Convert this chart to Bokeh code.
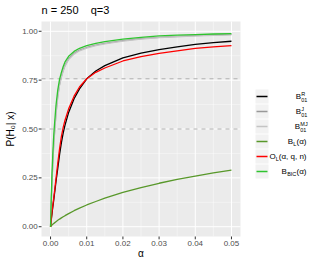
import math
from bokeh.plotting import figure
from bokeh.models import Range1d
from bokeh.core.properties import value
from bokeh.embed import file_html
from bokeh.resources import INLINE

# ---- data ----
alpha = [0, 0.0002, 0.0004, 0.0006, 0.0008, 0.001, 0.0015, 0.002, 0.0025, 0.003, 0.0035,
         0.004, 0.005, 0.0065, 0.008, 0.01, 0.0125, 0.015, 0.02, 0.025, 0.03, 0.035,
         0.04, 0.045, 0.05]
b01_R = [0, 0.035, 0.068, 0.098, 0.125, 0.155, 0.23, 0.30, 0.37, 0.43, 0.48,
         0.52, 0.585, 0.655, 0.705, 0.757, 0.797, 0.824, 0.864, 0.888, 0.906, 0.92,
         0.933, 0.942, 0.949]
b01_J = [0, 0.123, 0.234, 0.314, 0.394, 0.454, 0.579, 0.669, 0.729, 0.769, 0.801,
         0.826, 0.859, 0.887, 0.904, 0.917, 0.929, 0.938, 0.952, 0.962, 0.969, 0.974,
         0.978, 0.981, 0.984]
b01_MJ = [0, 0.12, 0.23, 0.31, 0.39, 0.45, 0.575, 0.665, 0.725, 0.765, 0.797,
          0.822, 0.855, 0.883, 0.9, 0.914, 0.926, 0.935, 0.95, 0.96, 0.967, 0.972,
          0.976, 0.979, 0.982]
b_L = [0, 0.0046, 0.0085, 0.0122, 0.0155, 0.0184, 0.0258, 0.0327, 0.0391, 0.0452, 0.051,
       0.0565, 0.0672, 0.082, 0.0955, 0.1113, 0.129, 0.1462, 0.1754, 0.2004, 0.2224, 0.2418,
       0.2593, 0.275, 0.2893]
o_L = [0, 0.04, 0.075, 0.105, 0.135, 0.165, 0.245, 0.325, 0.40, 0.462, 0.508,
       0.545, 0.603, 0.668, 0.715, 0.757, 0.79, 0.812, 0.848, 0.87, 0.887, 0.9,
       0.912, 0.92, 0.927]
b_BIC = [0, 0.15, 0.27, 0.36, 0.44, 0.50, 0.62, 0.70, 0.755, 0.79, 0.82,
         0.843, 0.872, 0.897, 0.913, 0.926, 0.938, 0.947, 0.96, 0.969, 0.976, 0.98,
         0.983, 0.986, 0.988]
ref_levels = [0.757, 0.5]
x_ticks = [0, 0.01, 0.02, 0.03, 0.04, 0.05]
x_tick_labels = ["0.00", "0.01", "0.02", "0.03", "0.04", "0.05"]
x_minor = [0.005, 0.015, 0.025, 0.035, 0.045]
y_ticks = [0, 0.25, 0.5, 0.75, 1.0]
y_tick_labels = ["0.00", "0.25", "0.50", "0.75", "1.00"]
y_minor = [0.125, 0.375, 0.625, 0.875]
title_text = "n\u00a0=\u00a0250\u00a0\u00a0\u00a0\u00a0q=3"
x_title = "α"
y_title = "P(H₀| x)"

series = [
    ("R", b01_R, "#000000"),
    ("J", b01_J, "#999999"),
    ("MJ", b01_MJ, "#c4c4c4"),
    ("L", b_L, "#58982a"),
    ("O", o_L, "#ff0000"),
    ("BIC", b_BIC, "#2fc42f"),
]

FONT = "Liberation Sans"

# ---- layout in picture pixels; the whole canvas is the plotting frame ----
W, H = 308, 259
PL, PR, PT, PB = 41, 240, 21, 236   # grey panel edges (picture px)
XMIN, XMAX = -0.0025, 0.0525
YMIN, YMAX = -0.05, 1.05
dx = (XMAX - XMIN) / (PR - PL)
dy = (YMAX - YMIN) / (PB - PT)

p = figure(width=W, height=H, output_backend="svg", toolbar_location=None,
           x_axis_type=None, y_axis_type=None,
           x_range=Range1d(XMIN - PL * dx, XMAX + (W - PR) * dx),
           y_range=Range1d(YMIN - (H - PB) * dy, YMAX + PT * dy),
           min_border=0, min_border_left=0, min_border_right=0,
           min_border_top=0, min_border_bottom=0)
p.title.visible = False
p.grid.visible = False
p.outline_line_color = None
p.background_fill_color = "white"
p.border_fill_color = "white"
p.extra_x_ranges = {"px": Range1d(0, W)}
p.extra_y_ranges = {"px": Range1d(H, 0)}
PX = dict(x_range_name="px", y_range_name="px")
XD_YPX = dict(y_range_name="px")
XPX_YD = dict(x_range_name="px")

# grey panel
p.quad(left=[XMIN], right=[XMAX], bottom=[YMIN], top=[YMAX], fill_color="#ebebeb", line_color=None)
# minor grid
p.segment(x0=x_minor, y0=[YMIN] * len(x_minor), x1=x_minor, y1=[YMAX] * len(x_minor),
          line_color="white", line_width=0.5, line_alpha=0.8)
p.segment(x0=[XMIN] * len(y_minor), y0=y_minor, x1=[XMAX] * len(y_minor), y1=y_minor,
          line_color="white", line_width=0.5, line_alpha=0.8)
# major grid
p.segment(x0=x_ticks, y0=[YMIN] * len(x_ticks), x1=x_ticks, y1=[YMAX] * len(x_ticks),
          line_color="white", line_width=1)
p.segment(x0=[XMIN] * len(y_ticks), y0=y_ticks, x1=[XMAX] * len(y_ticks), y1=y_ticks,
          line_color="white", line_width=1)
# dashed reference levels
p.segment(x0=[XMIN] * len(ref_levels), y0=ref_levels, x1=[XMAX] * len(ref_levels), y1=ref_levels,
          line_color="#b0b0b0", line_dash="4 4", line_width=1)

for name, ys, col in series:
    p.line(alpha, ys, line_color=col, line_width=1.3)

# ---- axes: tick marks and labels ----
p.segment(x0=x_ticks, y0=[PB] * len(x_ticks), x1=x_ticks, y1=[PB + 2.8] * len(x_ticks),
          line_color="#333333", line_width=1, **XD_YPX)
p.text(x=x_ticks, y=[PB + 7] * len(x_ticks), text=x_tick_labels, text_font=value(FONT),
       text_font_size="8px", text_color="#4d4d4d", text_align="center",
       text_baseline="middle", **XD_YPX)
p.segment(x0=[PL - 2.8] * len(y_ticks), y0=y_ticks, x1=[PL] * len(y_ticks), y1=y_ticks,
          line_color="#333333", line_width=1, **XPX_YD)
p.text(x=[PL - 3.8] * len(y_ticks), y=y_ticks, text=y_tick_labels, text_font=value(FONT),
       text_font_size="8px", text_color="#4d4d4d", text_align="right",
       text_baseline="middle", **XPX_YD)

def txt(x, y, s, size, align="right", angle=0.0, color="black"):
    p.text(x=[x], y=[y], text=[s], text_font=value(FONT), text_font_size=size,
           text_align=align, text_baseline="middle", text_color=color, angle=angle, **PX)

txt((PL + PR) / 2, 252.5, x_title, "10px", "center")
txt(10, (PT + PB) / 2, y_title, "10px", "center", angle=math.pi / 2)
txt(PL, 9.5, title_text, "11px", "left")

# ---- legend ----
key_y = [96, 111, 126, 141, 156, 171]
p.rect(x=[261.5] * 6, y=key_y, width=13, height=14, fill_color="#f2f2f2", line_color=None, **PX)
for (name, ys, col), ky in zip(series, key_y):
    p.segment(x0=[256], y0=[ky], x1=[267], y1=[ky], line_color=col, line_width=1.3, **PX)

# B01^R, B01^J, B01^MJ
for ky, sup, bx in ((96, "R", 300.5), (111, "J", 300.5), (126, "MJ", 299.5)):
    txt(bx, ky, "B", "8px")
    txt(bx + 0.3, ky - 3, sup, "5.5px", "left")
    txt(bx + 0.3, ky + 3.5, "01", "5.5px", "left")

# B_L(alpha)
txt(306, 141, "(α)", "8px")
txt(295.8, 143.5, "L", "5.5px")
txt(292.6, 141, "B", "8px")
# O_L(alpha, q, n)
txt(306, 156, "(α, q, n)", "8px")
txt(278.3, 158.5, "L", "5.5px")
txt(275.2, 156, "O", "8px")
# B_BIC(alpha)
txt(306, 171, "(α)", "8px")
txt(295.8, 173.5, "BIC", "5.5px")
txt(286.4, 171, "B", "8px")

open("out.html", "w").write(file_html(p, INLINE))
